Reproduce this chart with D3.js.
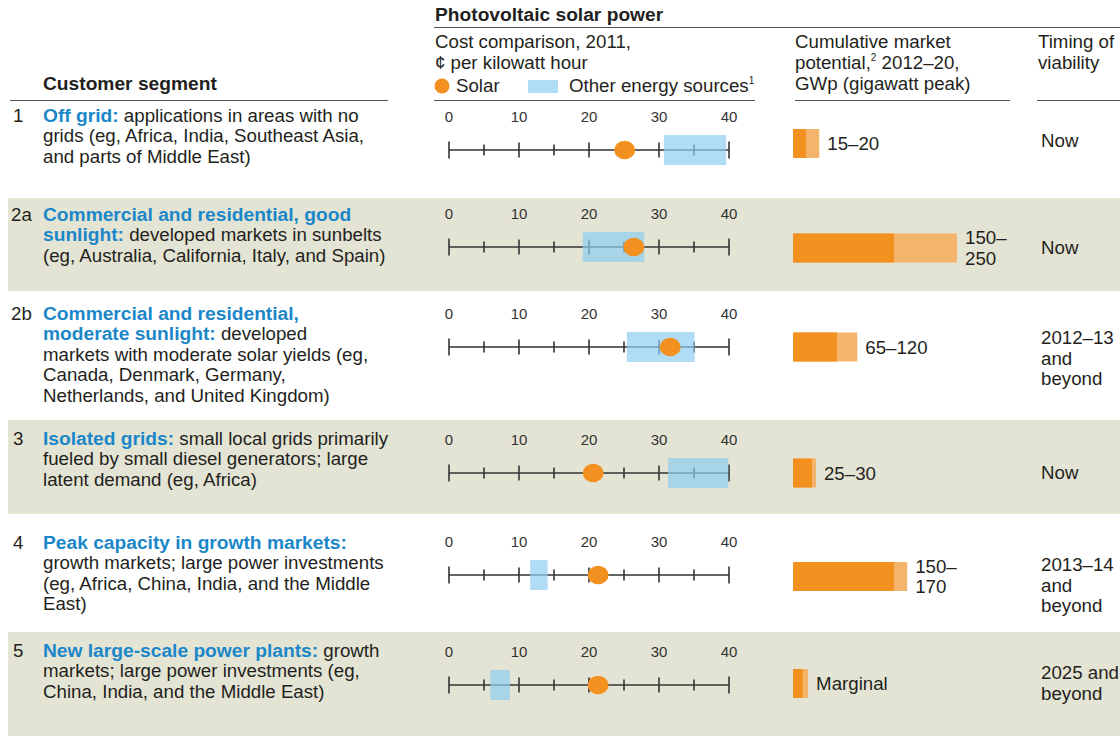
<!DOCTYPE html>
<html><head><meta charset="utf-8">
<script src="https://cdn.jsdelivr.net/npm/d3@7"></script>
<style>
html,body{margin:0;padding:0;background:#fff;}
svg{display:block;font-family:"Liberation Sans",Arial,Helvetica,sans-serif;}
</style></head>
<body><svg id="c" width="1120" height="736"></svg>
<script>
// ---------- data ----------
const segmentIds = ["1", "2a", "2b", "3", "4", "5"];
const segmentText = [
  [[["b","Off grid:"],["n"," applications in areas with no"]],
   [["n","grids (eg, Africa, India, Southeast Asia,"]],
   [["n","and parts of Middle East)"]]],
  [[["b","Commercial and residential, good"]],
   [["b","sunlight:"],["n"," developed markets in sunbelts"]],
   [["n","(eg, Australia, California, Italy, and Spain)"]]],
  [[["b","Commercial and residential,"]],
   [["b","moderate sunlight:"],["n"," developed"]],
   [["n","markets with moderate solar yields (eg,"]],
   [["n","Canada, Denmark, Germany,"]],
   [["n","Netherlands, and United Kingdom)"]]],
  [[["b","Isolated grids:"],["n"," small local grids primarily"]],
   [["n","fueled by small diesel generators; large"]],
   [["n","latent demand (eg, Africa)"]]],
  [[["b","Peak capacity in growth markets:"]],
   [["n","growth markets; large power investments"]],
   [["n","(eg, Africa, China, India, and the Middle"]],
   [["n","East)"]]],
  [[["b","New large-scale power plants:"],["n"," growth"]],
   [["n","markets; large power investments (eg,"]],
   [["n","China, India, and the Middle East)"]]]
];
const costTicks = [0, 10, 20, 30, 40];
const costMinorTicks = [5, 15, 25, 35];
const solarCost = [25.1, 26.4, 31.6, 20.6, 21.3, 21.3];
const otherLow  = [30.7, 19.1, 25.4, 31.3, 11.6, 5.9];
const otherHigh = [39.6, 27.9, 35.1, 39.9, 14.1, 8.7];
// market potential bars as drawn (GWp), dark = low end, light = high end
const marketLow  = [20, 154, 67, 29, 154, 15];
const marketHigh = [40, 250, 98, 35, 174, 23];
const marketLabels = [["15–20"], ["150–", "250"], ["65–120"], ["25–30"], ["150–", "170"], ["Marginal"]];
const timingLabels = [["Now"], ["Now"], ["2012–13", "and", "beyond"], ["Now"], ["2013–14", "and", "beyond"], ["2025 and", "beyond"]];

// ---------- layout ----------
const rowTop    = [100, 198, 291, 420, 514, 632];
const rowBottom = [198, 291, 420, 514, 632, 736];
const shaded    = [false, true, false, true, false, true];
const textY     = [115, 214, 313, 438, 542, 650];   // first line center
const axisY     = [150, 247, 347, 473, 575, 685];
const barY      = [143.5, 248, 347, 473, 576.5, 683.5];
const timeCenter = [140, 247, 358, 472, 585, 683];
const lineH = 20.6;
const FS = 18.7, FB = 19.2, BASE = 6.5;

const C = {
  text: "#231f20", blue: "#1b87c9", orange: "#f39120", orangeLight: "#f5b46c",
  other: "#8ecdf1", shade: "#e4e4d4", rule: "#555"
};

const svg = d3.select("#c");

// backgrounds
svg.selectAll("rect.bg").data(segmentIds).join("rect")
  .attr("x", 8).attr("width", 1112)
  .attr("y", (d,i)=>rowTop[i]).attr("height", (d,i)=>rowBottom[i]-rowTop[i])
  .attr("fill", (d,i)=>shaded[i] ? C.shade : "#fff");

// ---------- header ----------
const hdr = svg.append("g").attr("fill", C.text).attr("font-size", FS);
hdr.append("text").attr("x", 435).attr("y", 21).attr("font-weight", "bold").attr("font-size", FB).text("Photovoltaic solar power");
svg.append("line").attr("x1", 434).attr("x2", 1120).attr("y1", 27.5).attr("y2", 27.5).attr("stroke", C.rule).attr("stroke-width", 1.2);
hdr.append("text").attr("x", 43).attr("y", 90).attr("font-weight", "bold").attr("font-size", FB).text("Customer segment");
hdr.append("text").attr("x", 435).attr("y", 48).text("Cost comparison, 2011,");
hdr.append("text").attr("x", 435).attr("y", 69).text("¢ per kilowatt hour");
hdr.append("circle").attr("cx", 442).attr("cy", 86).attr("r", 7.5).attr("fill", C.orange);
hdr.append("text").attr("x", 456).attr("y", 92).text("Solar");
hdr.append("rect").attr("x", 528).attr("y", 80).attr("width", 30).attr("height", 13).attr("fill", C.other).attr("opacity", 0.7);
const oes = hdr.append("text").attr("x", 569).attr("y", 92).text("Other energy sources");
oes.append("tspan").attr("font-size", 10).attr("dy", -8).text("1");
hdr.append("text").attr("x", 795).attr("y", 48).text("Cumulative market");
const pt = hdr.append("text").attr("x", 795).attr("y", 69).text("potential,");
pt.append("tspan").attr("font-size", 10).attr("dy", -8).text("2");
pt.append("tspan").attr("dy", 8).text(" 2012–20,");
hdr.append("text").attr("x", 795).attr("y", 90).text("GWp (gigawatt peak)");
hdr.append("text").attr("x", 1038).attr("y", 48).text("Timing of");
hdr.append("text").attr("x", 1038).attr("y", 69).text("viability");
[[10,388],[434,755],[795,1010],[1037,1120]].forEach(([a,b])=>{
  svg.append("line").attr("x1", a).attr("x2", b).attr("y1", 100.5).attr("y2", 100.5)
    .attr("stroke", C.rule).attr("stroke-width", 1.2);
});

// ---------- customer segment text ----------
const seg = svg.append("g").attr("font-size", FS);
segmentIds.forEach((id, i) => {
  seg.append("text").attr("x", id.length > 1 ? 11 : 13).attr("y", textY[i] + BASE).attr("fill", C.text).text(id);
  segmentText[i].forEach((line, j) => {
    const t = seg.append("text").attr("x", 43).attr("y", textY[i] + BASE + j * lineH).attr("fill", C.text);
    line.forEach(([k, s]) => {
      const sp = t.append("tspan").text(s);
      if (k === "b") sp.attr("font-weight", "bold").attr("font-size", FB).attr("fill", C.blue);
    });
  });
});

// ---------- cost comparison ----------
const x = d3.scaleLinear().domain([0, 40]).range([449, 729]);
segmentIds.forEach((id, i) => {
  const g = svg.append("g");
  const y = axisY[i];
  g.selectAll("text").data(costTicks).join("text")
    .attr("x", d => x(d)).attr("y", y - 28.5).attr("text-anchor", "middle")
    .attr("font-size", 15).attr("fill", "#333").text(d => d);
  g.append("line").attr("x1", x(0)).attr("x2", x(40)).attr("y1", y).attr("y2", y)
    .attr("stroke", "#333").attr("stroke-width", 1.6);
  g.selectAll("line.maj").data(costTicks).join("line").attr("class", "maj")
    .attr("x1", d => x(d)).attr("x2", d => x(d))
    .attr("y1", d => y - ((d===0||d===40) ? 8.5 : 7.5)).attr("y2", d => y + ((d===0||d===40) ? 8.5 : 7.5))
    .attr("stroke", "#333").attr("stroke-width", 1.6);
  g.selectAll("line.min").data(costMinorTicks).join("line").attr("class", "min")
    .attr("x1", d => x(d)).attr("x2", d => x(d)).attr("y1", y - 5.5).attr("y2", y + 5.5)
    .attr("stroke", "#333").attr("stroke-width", 1.6);
  g.append("rect").attr("x", x(otherLow[i])).attr("width", x(otherHigh[i]) - x(otherLow[i]))
    .attr("y", y - 15).attr("height", 30).attr("fill", C.other).attr("opacity", 0.7);
  g.append("ellipse").attr("cx", x(solarCost[i])).attr("cy", y).attr("rx", 10.5).attr("ry", 9.2).attr("fill", C.orange);
});

// ---------- market potential ----------
const xm = d3.scaleLinear().domain([0, 250]).range([793, 957]);
segmentIds.forEach((id, i) => {
  const g = svg.append("g");
  const y = barY[i];
  g.append("rect").attr("x", xm(0)).attr("width", xm(marketHigh[i]) - xm(0))
    .attr("y", y - 14.5).attr("height", 29).attr("fill", C.orangeLight);
  g.append("rect").attr("x", xm(0)).attr("width", xm(marketLow[i]) - xm(0))
    .attr("y", y - 14.5).attr("height", 29).attr("fill", C.orange);
  const lines = marketLabels[i];
  lines.forEach((s, j) => {
    g.append("text").attr("x", xm(marketHigh[i]) + 8)
      .attr("y", y + BASE + (j - (lines.length - 1) / 2) * lineH)
      .attr("font-size", FS).attr("fill", C.text).text(s);
  });
});

// ---------- timing ----------
timingLabels.forEach((lines, i) => {
  lines.forEach((s, j) => {
    svg.append("text").attr("x", 1041)
      .attr("y", timeCenter[i] + BASE + (j - (lines.length - 1) / 2) * lineH)
      .attr("font-size", FS).attr("fill", C.text).text(s);
  });
});
</script></body></html>
